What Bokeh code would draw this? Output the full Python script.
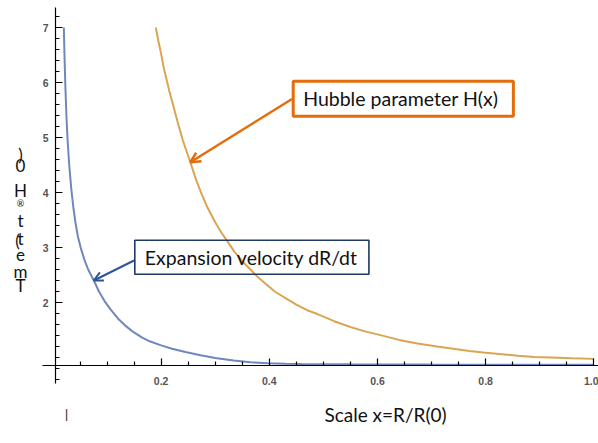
from bokeh.plotting import figure
from bokeh.models import Range1d, Label, Arrow, OpenHead, FixedTicker
from bokeh.embed import file_html
from bokeh.resources import INLINE

# ---- data ----
blue_x = [0.020, 0.0215, 0.023, 0.025, 0.027, 0.030, 0.034, 0.038, 0.0416, 0.046, 0.052,
          0.058, 0.065, 0.0755, 0.085, 0.095, 0.106, 0.12, 0.135, 0.149, 0.165, 0.18,
          0.20, 0.22, 0.245, 0.273, 0.30, 0.334, 0.365, 0.397, 0.43, 0.46, 0.55, 0.70,
          0.85, 1.0]
blue_y = [7.0, 6.4, 5.9, 5.35, 4.95, 4.5, 4.05, 3.7, 3.45, 3.2, 2.97,
          2.78, 2.6, 2.4, 2.2, 2.03, 1.88, 1.71, 1.57, 1.46, 1.36, 1.29,
          1.22, 1.16, 1.1, 1.04, 0.99, 0.945, 0.915, 0.896, 0.887, 0.882, 0.876, 0.872,
          0.87, 0.87]

orange_x = [0.19, 0.195, 0.20, 0.205, 0.215, 0.23, 0.24, 0.254, 0.265, 0.275, 0.285, 0.30,
            0.31, 0.322, 0.335, 0.35, 0.365, 0.378, 0.39, 0.41, 0.43, 0.45, 0.47, 0.489,
            0.52, 0.55, 0.575, 0.60, 0.64, 0.674, 0.71, 0.74, 0.77, 0.796, 0.83, 0.86,
            0.89, 0.92, 0.96, 1.0]
orange_y = [7.0, 6.75, 6.52, 6.26, 5.85, 5.3, 4.95, 4.55, 4.22, 3.97, 3.74, 3.46,
            3.29, 3.12, 2.93, 2.75, 2.6, 2.47, 2.37, 2.2, 2.08, 1.96, 1.86, 1.79,
            1.66, 1.555, 1.48, 1.42, 1.32, 1.255, 1.2, 1.16, 1.12, 1.09, 1.06, 1.03,
            1.01, 1.0, 0.985, 0.975]

x_major = [0.2, 0.4, 0.6, 0.8, 1.0]
x_labels = ["0.2", "0.4", "0.6", "0.8", "1.0"]
x_minor = [0.05, 0.1, 0.15, 0.25, 0.3, 0.35, 0.45, 0.5, 0.55, 0.65, 0.7, 0.75, 0.85, 0.9, 0.95]
y_major = [2, 3, 4, 5, 6, 7]
y_labels = ["2", "3", "4", "5", "6", "7"]
y_minor = [0.6, 0.8, 1.0, 1.2, 1.4, 1.6, 1.8, 2.2, 2.4, 2.6, 2.8, 3.2, 3.4, 3.6, 3.8,
           4.2, 4.4, 4.6, 4.8, 5.2, 5.4, 5.6, 5.8, 6.2, 6.4, 6.6, 6.8, 7.2]

x_axis_cross = 0.8545          # y value where the x axis sits
y_axis_cross = 0.0046          # x value where the y axis sits
x_axis_bounds = (-0.0194, 1.0088)
y_axis_bounds = (0.527, 7.36)

hubble_text = "Hubble parameter H(x)"
hubble_tip = (0.254, 4.55)
velocity_text = "Expansion velocity dR/dt"
velocity_tip = (0.0755, 2.4)
x_title = "Scale x=R/R(0)"
y_title_chars = [")", "0", "H", "\u00ae", "t", "t", "(", "e", "m", "T"]

# ---- layout helpers (page pixels -> data) ----
W, H = 598, 443
def px2x(px):
    return (px - 52.5) / 540.75
def py2y(py):
    return 4 - (py - 192) / 55.0

p = figure(width=W, height=H, output_backend="svg", toolbar_location=None,
           x_range=Range1d(px2x(0), px2x(W)), y_range=Range1d(py2y(H), py2y(0)),
           min_border=0)
p.outline_line_color = None
p.grid.visible = False
p.background_fill_color = "white"
p.border_fill_color = "white"

p.line(blue_x, blue_y, line_color="#6F87BC", line_width=2.0)
p.line(orange_x, orange_y, line_color="#DAA553", line_width=2.0)

xa = p.xaxis[0]
xa.fixed_location = x_axis_cross
xa.bounds = x_axis_bounds
xa.ticker = FixedTicker(ticks=x_major, minor_ticks=x_minor)
xa.major_label_overrides = {v: s for v, s in zip(x_major, x_labels)}
ya = p.yaxis[0]
ya.fixed_location = y_axis_cross
ya.bounds = y_axis_bounds
ya.ticker = FixedTicker(ticks=y_major, minor_ticks=y_minor)
ya.major_label_overrides = {v: s for v, s in zip(y_major, y_labels)}
for ax in (xa, ya):
    ax.axis_line_color = "black"
    ax.axis_line_width = 1.2
    ax.major_tick_line_color = "black"
    ax.minor_tick_line_color = "black"
    ax.major_tick_line_width = 1.2
    ax.minor_tick_line_width = 1.2
    ax.major_tick_in = 7
    ax.major_tick_out = 0
    ax.minor_tick_in = 4
    ax.minor_tick_out = 0
    ax.major_label_text_font = "Liberation Sans"
    ax.major_label_text_font_style = "bold"
    ax.major_label_text_font_size = "10.5px"
    ax.major_label_text_color = "#555555"
xa.major_label_standoff = 11
ya.major_label_standoff = 7

# annotation boxes
p.add_layout(Label(x=px2x(292.7), y=py2y(98.3), text=hubble_text, text_font="Lato",
                   text_font_size="19.5px", text_color="#111111", text_align="left",
                   text_baseline="middle", border_line_color="#E46C0A", border_line_width=3,
                   background_fill_color="white",
                   padding=dict(left=10, right=15, top=6, bottom=6)))
p.add_layout(Label(x=px2x(134.3), y=py2y(256.8), text=velocity_text, text_font="Lato",
                   text_font_size="19.5px", text_color="#111111", text_align="left",
                   text_baseline="middle", border_line_color="#1F3864", border_line_width=1.6,
                   background_fill_color=None,
                   padding=dict(left=10, right=11, top=6, bottom=5)))

p.add_layout(Arrow(x_start=px2x(291.5), y_start=py2y(98.5), x_end=hubble_tip[0], y_end=hubble_tip[1],
                   line_color="#E46C0A", line_width=2.5,
                   end=OpenHead(size=10, line_color="#E46C0A", line_width=2.5)))
p.add_layout(Arrow(x_start=px2x(133.5), y_start=py2y(260), x_end=velocity_tip[0], y_end=velocity_tip[1],
                   line_color="#2F5597", line_width=2,
                   end=OpenHead(size=9, line_color="#2F5597", line_width=2)))

# axis title (below) and stray mark
p.add_layout(Label(x=px2x(385), y=py2y(414), text=x_title, text_font="Lato",
                   text_font_size="19px", text_color="#111111", text_align="center",
                   text_baseline="middle"))
p.add_layout(Label(x=px2x(66), y=py2y(413), text="|", text_font="Liberation Sans",
                   text_font_size="12px", text_color="#222222", text_align="center",
                   text_baseline="middle"))

# garbled vertical y title, characters stacked top to bottom
ych_py = [154, 165, 190, 203, 220, 238, 240, 254, 271, 285]
ych_px = [20, 20, 20, 20, 20, 20, 17, 20, 20, 20]
ych_sz = ["17px", "17px", "17px", "9px", "17px", "17px", "17px", "17px", "17px", "17px"]
for ch, px, py, sz in zip(y_title_chars, ych_px, ych_py, ych_sz):
    p.add_layout(Label(x=px2x(px), y=py2y(py), text=ch, text_font="Lato",
                       text_font_size=sz, text_color="#111111", text_align="center",
                       text_baseline="middle"))

open("out.html", "w").write(file_html(p, INLINE))
